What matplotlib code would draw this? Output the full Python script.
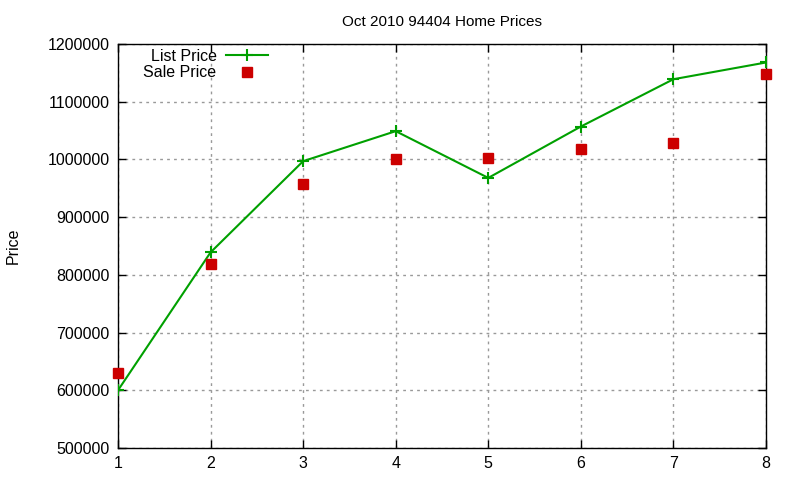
import matplotlib
matplotlib.use("Agg")
import matplotlib.pyplot as plt

plt.rcParams['font.family'] = ['Liberation Sans', 'DejaVu Sans']

# Values
months      = [1, 2, 3, 4, 5, 6, 7, 8]
list_price  = [600000, 839000, 997000, 1049000, 968000, 1057000, 1139000, 1168000]
sale_price  = [630000, 819000, 958000, 1000000, 1003000, 1018000, 1029000, 1148000]
y_ticks     = [500000, 600000, 700000, 800000, 900000, 1000000, 1100000, 1200000]

fig = plt.figure(figsize=(8, 4.8), dpi=100)
ax = fig.add_axes([0.1475, 0.0667, 0.81, 0.8416])

ax.plot(months, list_price, color='#00a000', lw=1.5, marker='+',
        markersize=9, markeredgewidth=1.5, label='List Price', zorder=3)
ax.plot(months, sale_price, linestyle='none', color='#cc0000', marker='s',
        markersize=6.5, label='Sale Price', zorder=3, clip_on=False)

ax.set_xlim(1, 8)
ax.set_ylim(500000, 1200000)
ax.set_xticks(months)
ax.set_yticks(y_ticks)
ax.set_yticklabels([str(v) for v in y_ticks])
ax.tick_params(direction='in', length=6, width=1, top=True, right=True,
               labelsize=11.5, pad=6, color='black')
ax.grid(True, color='#999999', linestyle=(0, (2, 3)), linewidth=1)
for sp in ax.spines.values():
    sp.set_linewidth(1)

ax.set_title('Oct 2010 94404 Home Prices', fontsize=11, pad=13)
ax.set_ylabel('Price', fontsize=11.5)
ax.yaxis.set_label_coords(-0.150, 0.5)

leg = ax.legend(loc='upper left', markerfirst=False, frameon=False,
                fontsize=11.5, handlelength=2.6, handletextpad=0.6,
                borderaxespad=0.1, labelspacing=0.1,
                bbox_to_anchor=(0.027, 1.008))
for t in leg.get_texts():
    t.set_ha('right')

fig.savefig('out.png', dpi=100)
